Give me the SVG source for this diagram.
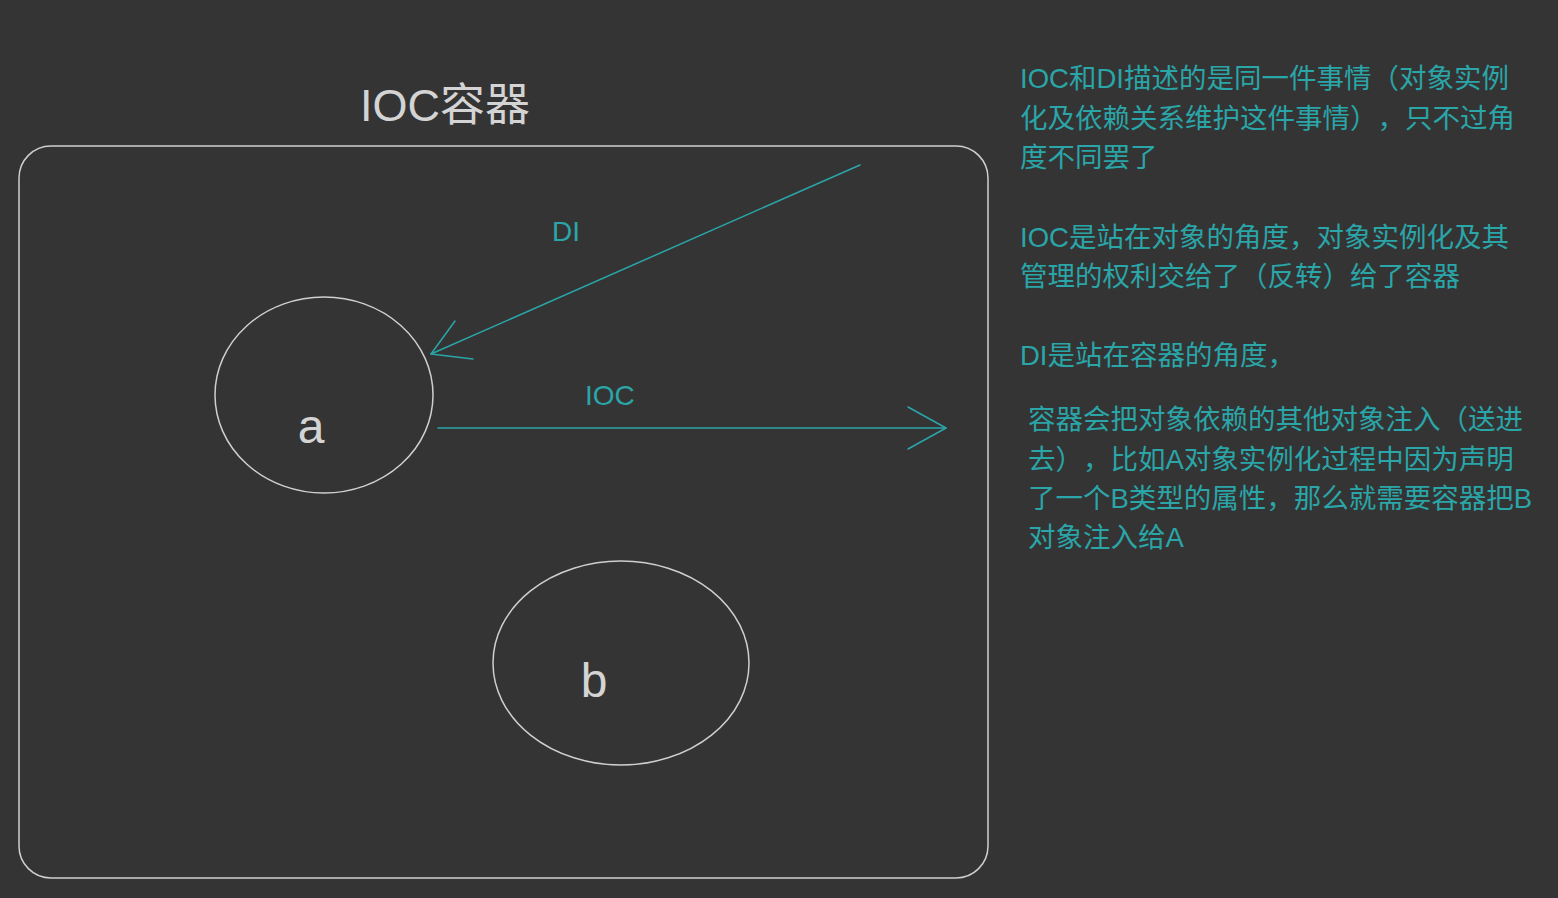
<svg xmlns="http://www.w3.org/2000/svg" width="1558" height="898" viewBox="0 0 1558 898">
<style>
.bg{fill:#343434}
.shape{fill:none;stroke:#cfcfcf;stroke-width:1.5}
.conn{fill:none;stroke:#2aa5a8;stroke-width:1.5;stroke-linecap:round;stroke-linejoin:round}
.t{font-family:"Liberation Sans","Noto Sans CJK SC",sans-serif;text-spacing-trim:space-all}
.lbl{fill:#2aa5a8;font-size:28px}
.note{fill:#2aa5a8;font-size:27.5px}
.node{fill:#d4d4d4;font-size:48px}
</style>
<rect class="bg" x="0" y="0" width="1558" height="898"/>
<g id="container">
<rect class="shape" x="19" y="146" width="969" height="732" rx="32"/>
<text class="t" x="360" y="121" fill="#d4d4d4" font-size="45">IOC容器</text>
</g>
<g id="node-a">
<ellipse class="shape" cx="324" cy="395" rx="109" ry="98"/>
<text class="t node" x="311" y="443" text-anchor="middle">a</text>
</g>
<g id="node-b">
<ellipse class="shape" cx="621" cy="663" rx="128" ry="102"/>
<text class="t node" x="594" y="697" text-anchor="middle">b</text>
</g>
<g id="connectors">
<line class="conn" x1="860" y1="165" x2="431" y2="354"/>
<polyline class="conn" points="455,321 431,354 473,359"/>
<text class="t lbl" x="552" y="241">DI</text>
<line class="conn" x1="438" y1="428" x2="946" y2="428"/>
<polyline class="conn" points="908,407 946,428 908,449"/>
<text class="t lbl" x="585" y="405">IOC</text>
</g>
<g id="notes">
<text class="t note" x="1020" y="88">IOC和DI描述的是同一件事情（对象实例</text>
<text class="t note" x="1020" y="128">化及依赖关系维护这件事情），只不过角</text>
<text class="t note" x="1020" y="167">度不同罢了</text>
<text class="t note" x="1020" y="247">IOC是站在对象的角度，对象实例化及其</text>
<text class="t note" x="1020" y="286">管理的权利交给了（反转）给了容器</text>
<text class="t note" x="1020" y="365">DI是站在容器的角度，</text>
<text class="t note" x="1028" y="429">容器会把对象依赖的其他对象注入（送进</text>
<text class="t note" x="1028" y="469">去），比如A对象实例化过程中因为声明</text>
<text class="t note" x="1028" y="508">了一个B类型的属性，那么就需要容器把B</text>
<text class="t note" x="1028" y="547">对象注入给A</text>
</g>
</svg>
